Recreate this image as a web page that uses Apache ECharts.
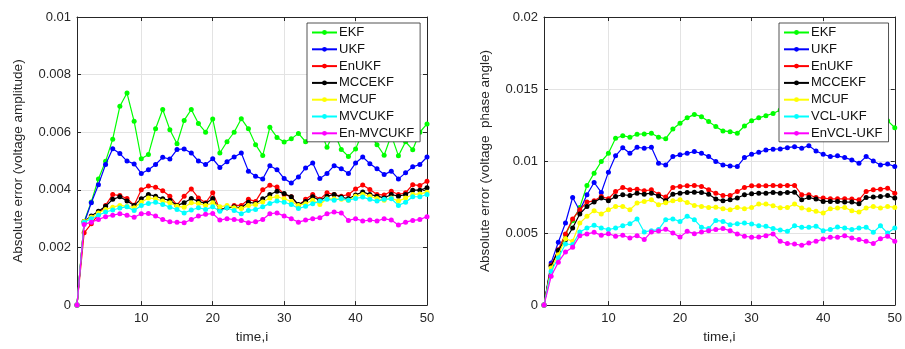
<!DOCTYPE html>
<html>
<head>
<meta charset="utf-8">
<script src="https://cdn.jsdelivr.net/npm/echarts@6/dist/echarts.min.js"></script>
<style>html,body{margin:0;padding:0;background:#fff}#c{width:905px;height:349px}</style>
</head>
<body>
<div id="c"></div>
<script>
// time index
const T = [1,2,3,4,5,6,7,8,9,10,11,12,13,14,15,16,17,18,19,20,21,22,23,24,25,26,27,28,29,30,31,32,33,34,35,36,37,38,39,40,41,42,43,44,45,46,47,48,49,50];
const xTicks = [10,20,30,40,50];

// Left plot: voltage amplitude (values in units of 1e-3)
const namesA = ['EKF','UKF','EnUKF','MCCEKF','MCUF','MVCUKF','En-MVCUKF'];
const EKF_A = [0,2.9,3.58,4.38,4.99,5.76,6.90,7.36,6.38,5.08,5.23,6.12,6.79,6.09,5.60,6.41,6.79,6.30,6.0,6.46,5.28,5.67,6.0,6.47,6.12,5.57,5.19,6.17,5.82,5.66,5.77,5.96,5.67,6.0,6.1,5.48,6.0,5.4,5.16,5.42,6.0,5.9,5.57,5.2,5.9,5.18,5.67,5.39,6.0,6.29];
const UKF_A = [0,2.85,3.55,4.18,4.88,5.43,5.26,5.0,4.9,4.57,4.7,4.88,5.13,5.07,5.4,5.42,5.28,5.0,4.88,5.08,4.78,4.98,5.14,5.28,4.65,4.47,4.38,4.84,4.7,4.39,4.24,4.45,4.76,4.93,4.39,4.57,4.84,4.73,4.57,4.93,5.14,4.91,4.73,4.53,4.65,4.38,4.59,4.8,4.88,5.14];
const EnUKF_A = [0,2.51,2.82,3.15,3.46,3.84,3.8,3.7,3.47,4.0,4.13,4.09,3.97,3.78,3.47,3.78,4.03,3.72,3.55,3.9,3.32,3.38,3.46,3.46,3.67,3.6,4.0,4.16,4.1,3.84,3.76,3.47,3.67,3.84,3.67,3.9,3.84,3.78,3.84,4.03,4.17,4.01,3.84,3.82,3.95,3.84,3.9,4.18,4.15,4.3];
const MCCEKF_A = [0,2.9,3.09,3.26,3.43,3.67,3.76,3.61,3.46,3.69,3.84,3.78,3.69,3.64,3.46,3.55,3.7,3.6,3.53,3.7,3.3,3.38,3.41,3.38,3.57,3.53,3.69,3.84,3.95,3.87,3.76,3.49,3.6,3.76,3.63,3.78,3.84,3.75,3.69,3.82,3.93,3.84,3.78,3.72,3.84,3.78,3.84,3.99,3.99,4.07];
const MCUF_A = [0,2.9,3.05,3.2,3.32,3.4,3.46,3.43,3.38,3.57,3.72,3.69,3.61,3.55,3.43,3.4,3.55,3.53,3.46,3.55,3.41,3.46,3.38,3.35,3.46,3.49,3.58,3.72,3.76,3.69,3.6,3.46,3.52,3.64,3.49,3.69,3.69,3.67,3.64,3.78,3.84,3.78,3.7,3.64,3.72,3.61,3.72,3.84,3.86,3.92];
const MVCUKF_A = [0,2.88,3.0,3.12,3.23,3.3,3.37,3.41,3.28,3.46,3.53,3.57,3.49,3.4,3.32,3.2,3.3,3.38,3.32,3.41,3.26,3.38,3.28,3.17,3.28,3.32,3.41,3.53,3.61,3.57,3.49,3.35,3.43,3.52,3.61,3.67,3.64,3.7,3.64,3.7,3.75,3.67,3.61,3.67,3.69,3.46,3.57,3.76,3.76,3.84];
const EnMVCUKF_A = [0,2.8,2.88,2.97,3.07,3.12,3.17,3.12,3.05,3.17,3.18,3.09,2.97,2.89,2.88,2.86,2.97,3.09,3.15,3.18,2.95,3.0,2.97,2.94,2.86,2.89,2.97,3.17,3.2,3.09,3.0,2.88,2.95,3.0,3.03,3.17,3.23,3.2,2.94,3.0,2.92,2.95,2.92,3.0,2.95,2.78,2.88,2.94,2.97,3.07];

// Right plot: voltage phase angle (values in units of 1e-3)
const namesP = ['EKF','UKF','EnUKF','MCCEKF','MCUF','VCL-UKF','EnVCL-UKF'];
const EKF_P = [0,2.8,3.74,4.9,5.85,6.78,8.3,9.16,9.97,10.54,11.58,11.76,11.65,11.86,11.88,11.93,11.65,11.55,12.22,12.62,13.0,13.24,13.08,12.74,12.39,12.09,12.04,11.93,12.43,12.8,13.0,13.15,13.3,13.55,13.6,13.7,13.8,13.9,13.6,13.4,13.3,13.2,13.1,13.0,12.9,13.1,13.0,12.9,12.8,12.32];
const UKF_P = [0,2.93,4.36,5.7,7.47,6.55,7.66,8.51,7.82,9.23,10.36,10.93,10.54,10.96,10.89,10.96,9.85,9.73,10.31,10.43,10.54,10.66,10.54,10.31,9.97,9.73,9.66,9.62,10.24,10.47,10.61,10.77,10.82,10.84,10.93,11.0,10.89,11.07,10.7,10.47,10.31,10.36,10.24,10.08,9.85,10.31,10.01,9.73,9.8,9.62];
const EnUKF_P = [0,2.77,3.85,4.94,5.98,6.62,7.15,7.24,7.54,7.38,7.89,8.17,8.0,8.05,7.94,8.0,7.7,7.5,8.17,8.24,8.28,8.31,8.24,8.0,7.77,7.61,7.61,7.89,8.17,8.28,8.28,8.28,8.31,8.29,8.31,8.31,7.66,7.66,7.47,7.43,7.38,7.38,7.38,7.36,7.31,7.89,8.0,8.05,8.12,7.77];
const MCCEKF_P = [0,2.7,3.8,4.54,5.35,6.32,6.85,7.15,7.43,7.24,7.54,7.66,7.61,7.77,7.7,7.77,7.57,7.24,7.7,7.77,7.82,7.84,7.82,7.7,7.36,7.24,7.31,7.43,7.66,7.73,7.77,7.77,7.82,7.77,7.82,7.84,7.31,7.47,7.36,7.2,7.2,7.2,7.15,7.15,7.04,7.47,7.5,7.54,7.61,7.43];
const MCUF_P = [0,2.58,3.5,4.61,4.43,5.7,6.16,6.55,6.32,6.62,6.85,6.85,6.62,7.08,7.2,7.31,6.97,7.1,7.24,7.31,7.13,6.92,6.85,6.78,6.8,6.69,6.62,6.78,6.69,6.78,7.01,7.01,6.9,6.76,6.78,7.01,6.74,6.62,6.51,6.39,6.69,6.74,6.78,6.55,6.46,6.74,6.85,6.74,6.85,6.78];
const VCLUKF_P = [0,2.35,3.28,4.24,4.2,5.08,5.35,5.54,5.35,5.24,5.35,5.51,5.65,5.98,5.08,5.17,5.24,5.93,5.98,5.81,6.16,5.93,5.4,5.31,5.88,5.81,5.58,5.65,5.7,5.63,5.51,5.47,5.31,5.22,5.12,5.51,5.4,5.4,5.47,5.17,5.24,5.42,5.35,5.24,5.35,5.4,5.05,5.51,5.0,5.35];
const EnVCLUKF_P = [0,2.0,2.98,3.69,4.01,4.82,4.94,5.05,4.85,4.96,4.78,4.85,4.66,4.82,4.55,5.08,5.14,5.26,5.0,4.72,5.12,4.96,5.08,5.17,5.24,5.31,5.17,4.94,4.78,4.71,4.72,4.82,4.94,4.43,4.27,4.24,4.15,4.31,4.43,4.59,4.71,4.71,4.82,4.66,4.55,4.43,4.27,4.61,4.78,4.43];

const yTicksA = {min:0, max:0.01, interval:0.002};
const yTicksP = {min:0, max:0.02, interval:0.005};
const colors = ['#00ff00','#0000ff','#ff0000','#000000','#ffff00','#00ffff','#ff00ff'];

const seriesA = [EKF_A,UKF_A,EnUKF_A,MCCEKF_A,MCUF_A,MVCUKF_A,EnMVCUKF_A];
const seriesP = [EKF_P,UKF_P,EnUKF_P,MCCEKF_P,MCUF_P,VCLUKF_P,EnVCLUKF_P];

const AX = '#262626';
const FONT = 'Liberation Sans, Arial, Helvetica, sans-serif';

function xAxisDef(gi, top){
  return {
    type:'value', gridIndex:gi, min:1, max:50, position: top?'top':'bottom',
    axisLine:{show:true, onZero:false, lineStyle:{color:AX, width:1}},
    axisTick:{show:true, inside:true, length:4, customValues:xTicks, lineStyle:{color:AX}},
    axisLabel:{show:!top, customValues:xTicks, color:AX, fontSize:13, fontFamily:FONT, margin:7},
    splitLine:{show:!top, lineStyle:{color:'#e3e3e3', width:1}},
    name: top?'':'time,i', nameLocation:'middle', nameGap:24,
    nameTextStyle:{color:AX, fontSize:13.5, fontFamily:FONT}
  };
}
function yAxisDef(gi, right, ticks, title){
  return {
    type:'value', gridIndex:gi, min:ticks.min, max:ticks.max, interval:ticks.interval,
    position: right?'right':'left',
    axisLine:{show:true, onZero:false, lineStyle:{color:AX, width:1}},
    axisTick:{show:true, inside:true, length:4, lineStyle:{color:AX}},
    axisLabel:{show:!right, color:AX, fontSize:13, fontFamily:FONT, margin:6},
    splitLine:{show:!right, lineStyle:{color:'#e3e3e3', width:1}},
    name: right?'':title, nameLocation:'middle', nameGap:52,
    nameTextStyle:{color:AX, fontSize:13.5, fontFamily:FONT}
  };
}

const series = [];
function addSeries(names, arrs, gi){
  arrs.forEach((arr, k) => {
    series.push({
      name: names[k], type:'line', xAxisIndex: gi*2, yAxisIndex: gi*2,
      data: T.map((t, j) => [t, arr[j] / 1000]),
      symbol:'circle', symbolSize:5, showSymbol:true,
      itemStyle:{color:colors[k]},
      lineStyle:{color:colors[k], width:1.2},
      animation:false, z: 2 + k
    });
  });
}
addSeries(namesA, seriesA, 0);
addSeries(namesP, seriesP, 1);

function legendDef(names, left){
  return {
    data: names, orient:'vertical', left:left, top:23, z:50,
    backgroundColor:'#ffffff', borderColor:AX, borderWidth:0.8,
    padding:[3,6,2,4], itemGap:3.8, itemWidth:25, itemHeight:6,
    textStyle:{color:'#111', fontSize:13, fontFamily:FONT, padding:[0,0,0,-3]},
    selectedMode:false
  };
}

const option = {
  backgroundColor:'#ffffff',
  animation:false,
  grid:[
    {left:77, top:17, width:350, height:289, containLabel:false},
    {left:544, top:17, width:351, height:289, containLabel:false}
  ],
  xAxis:[xAxisDef(0,false), xAxisDef(0,true), xAxisDef(1,false), xAxisDef(1,true)],
  yAxis:[yAxisDef(0,false,yTicksA,'Absolute error (voltage amplitude)'), yAxisDef(0,true,yTicksA,''),
         yAxisDef(1,false,yTicksP,'Absolute error (voltage  phase angle)'), yAxisDef(1,true,yTicksP,'')],
  legend:[legendDef(namesA, 307), legendDef(namesP, 779)],
  series: series
};
const chart = echarts.init(document.getElementById('c'), null, {renderer:'canvas'});
chart.setOption(option);
</script>
</body>
</html>
